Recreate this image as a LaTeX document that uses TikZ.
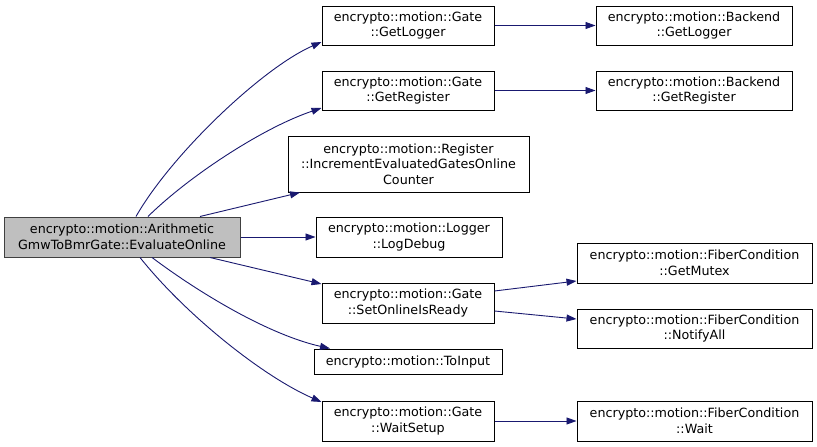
\documentclass[tikz,border=0pt]{standalone}
\usepackage{fontspec}
\setmainfont{DejaVu Sans}
\usetikzlibrary{arrows.meta}
\definecolor{edgeblue}{HTML}{191970}
\definecolor{rootfill}{HTML}{BFBFBF}
\definecolor{rootline}{HTML}{404040}
\begin{document}
\begin{tikzpicture}[x=1pt,y=-1pt,
  fn/.style={draw=black,line width=1pt,fill=white,inner sep=0pt,align=center,
    font=\fontsize{12.7}{15.5}\selectfont},
  rootfn/.style={fn,draw=rootline,fill=rootfill},
  call/.style={draw=edgeblue,line width=0.9pt,-{Triangle[length=10pt,width=7pt]},edgeblue}]
\useasboundingbox (0,0) rectangle (817,447);
\fill[white] (0,0) rectangle (817,447);
\node[rootfn,minimum width=236pt,minimum height=40pt] (root) at (122,237) {encrypto::motion::Arithmetic\\GmwToBmrGate::EvaluateOnline};
\node[fn,minimum width=172pt,minimum height=39pt] (gGL) at (408,25.5) {encrypto::motion::Gate\\::GetLogger};
\node[fn,minimum width=172pt,minimum height=39pt] (gGR) at (408,90.5) {encrypto::motion::Gate\\::GetRegister};
\node[fn,minimum width=241pt,minimum height=56pt] (inc) at (408.5,164) {encrypto::motion::Register\\::IncrementEvaluatedGatesOnline\\Counter};
\node[fn,minimum width=186pt,minimum height=40pt] (log) at (409,237) {encrypto::motion::Logger\\::LogDebug};
\node[fn,minimum width=172pt,minimum height=40pt] (sor) at (408,303) {encrypto::motion::Gate\\::SetOnlineIsReady};
\node[fn,minimum width=188pt,minimum height=25pt] (toi) at (408,361.5) {encrypto::motion::ToInput};
\node[fn,minimum width=172pt,minimum height=40pt] (ws) at (408,421) {encrypto::motion::Gate\\::WaitSetup};
\node[fn,minimum width=196pt,minimum height=39pt] (bGL) at (694,25.5) {encrypto::motion::Backend\\::GetLogger};
\node[fn,minimum width=196pt,minimum height=39pt] (bGR) at (694,90.5) {encrypto::motion::Backend\\::GetRegister};
\node[fn,minimum width=235pt,minimum height=40pt] (fGM) at (694.5,263) {encrypto::motion::FiberCondition\\::GetMutex};
\node[fn,minimum width=235pt,minimum height=39pt] (fNA) at (694.5,328.5) {encrypto::motion::FiberCondition\\::NotifyAll};
\node[fn,minimum width=235pt,minimum height=40pt] (fW) at (694.5,421) {encrypto::motion::FiberCondition\\::Wait};
% edges from root
\draw[call] ([xshift=14pt]root.north) .. controls (171,155) and (262,68) .. ([yshift=-16.5pt]gGL.west);
\draw[call] ([xshift=26pt]root.north) .. controls (188,177) and (262,128) .. ([yshift=-17.5pt]gGR.west);
\draw[call] ([xshift=78pt]root.north) -- ([xshift=-108.5pt]inc.south);
\draw[call] (root.east) -- (log.west);
\draw[call] ([xshift=88pt]root.south) -- ([yshift=19pt]sor.west);
\draw[call] ([xshift=30pt]root.south) .. controls (202,295) and (270,335) .. ([xshift=-78pt]toi.north);
\draw[call] ([xshift=18pt]root.south) .. controls (185,314) and (262,376) .. ([yshift=19pt]ws.west);
% second level
\draw[call] (gGL.east) -- (bGL.west);
\draw[call] (gGR.east) -- (bGR.west);
\draw[call] ([yshift=12pt]sor.east) -- ([yshift=-18pt]fGM.west);
\draw[call] ([yshift=-8pt]sor.east) -- ([yshift=9.5pt]fNA.west);
\draw[call] (ws.east) -- (fW.west);
\end{tikzpicture}
\end{document}
